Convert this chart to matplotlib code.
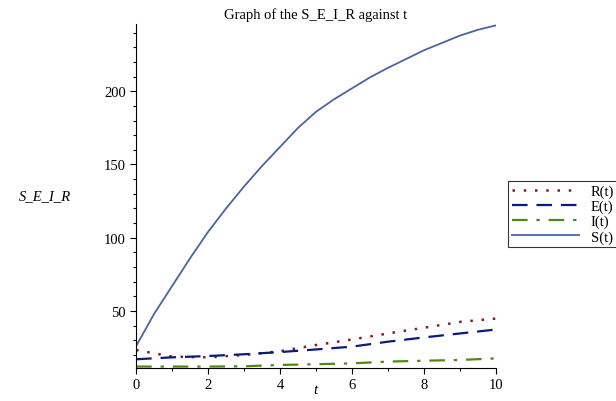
import numpy as np
import matplotlib
matplotlib.use('Agg')
import matplotlib.pyplot as plt

# values
t_S = [0, 0.5, 1, 1.5, 2, 2.5, 3, 3.5, 4, 4.5, 5, 5.5, 6, 6.5, 7, 7.5, 8, 8.5, 9, 9.5, 10]
S = [26, 48, 67, 86, 104, 120, 135, 149, 162, 175, 186, 194.5, 202, 209.5, 216, 222, 228, 233, 238, 242, 245]

t_REI = [0, 1, 2, 3, 4, 5, 6, 7, 8, 9, 10]
R = [23.3, 18.8, 18.3, 19.9, 22.5, 26.7, 30.5, 34.6, 38.5, 42.5, 44.8]
E = [17, 18.3, 19.2, 20.4, 21.9, 23.7, 25.6, 29, 31.9, 34.6, 37.3]
I = [12, 12, 12, 12.2, 13.1, 13.6, 14.2, 15.4, 16, 16.5, 17.6]

plt.rcParams['font.family'] = ['Liberation Serif', 'DejaVu Serif']

fig = plt.figure(figsize=(6.16, 4.02), dpi=100)
ax = fig.add_axes([0.221, 0.082, 0.584, 0.856])

ax.plot(t_REI, R, ls=(0, (1, 3.5)), lw=1.8, c='#8b1a1a', label='R(t)')
ax.plot(t_REI, E, ls=(0, (7, 4)), lw=1.6, c='#0a1a80', label='E(t)')
ax.plot(t_REI, I, ls=(0, (7, 4, 1.5, 4)), lw=1.6, c='#4f8a10', label='I(t)')
ax.plot(t_S, S, ls='-', lw=1.3, c='#4a64a0', label='S(t)')

ax.set_xlim(0, 10)
ax.set_ylim(11, 246)
ax.set_xticks([0, 2, 4, 6, 8, 10])
ax.set_xticks(np.arange(1, 10, 2), minor=True)
ax.set_yticks([50, 100, 150, 200])
ax.set_yticks(np.arange(20, 246, 10), minor=True)
ax.tick_params(direction='out', length=4, width=0.8, labelsize=10.5)
ax.tick_params(which='minor', direction='out', length=2.5, width=0.8)
for s in ['top', 'right']:
    ax.spines[s].set_visible(False)

ax.set_title('Graph of the S_E_I_R against t', fontsize=10.5, pad=4)
fig.text(0.073, 0.512, 'S_E_I_R', fontsize=10.5, style='italic', ha='center', va='center')
fig.text(0.512, 0.012, 't', fontsize=11, style='italic', ha='center', va='bottom')

leg = fig.legend(loc='upper left', bbox_to_anchor=(0.825, 0.548), fontsize=10.5,
                 frameon=True, fancybox=False, edgecolor='black', handlelength=4.6,
                 borderpad=0.25, labelspacing=0.12, handletextpad=0.8, borderaxespad=0)
leg.get_frame().set_linewidth(0.8)

fig.savefig('out.png', dpi=100)
